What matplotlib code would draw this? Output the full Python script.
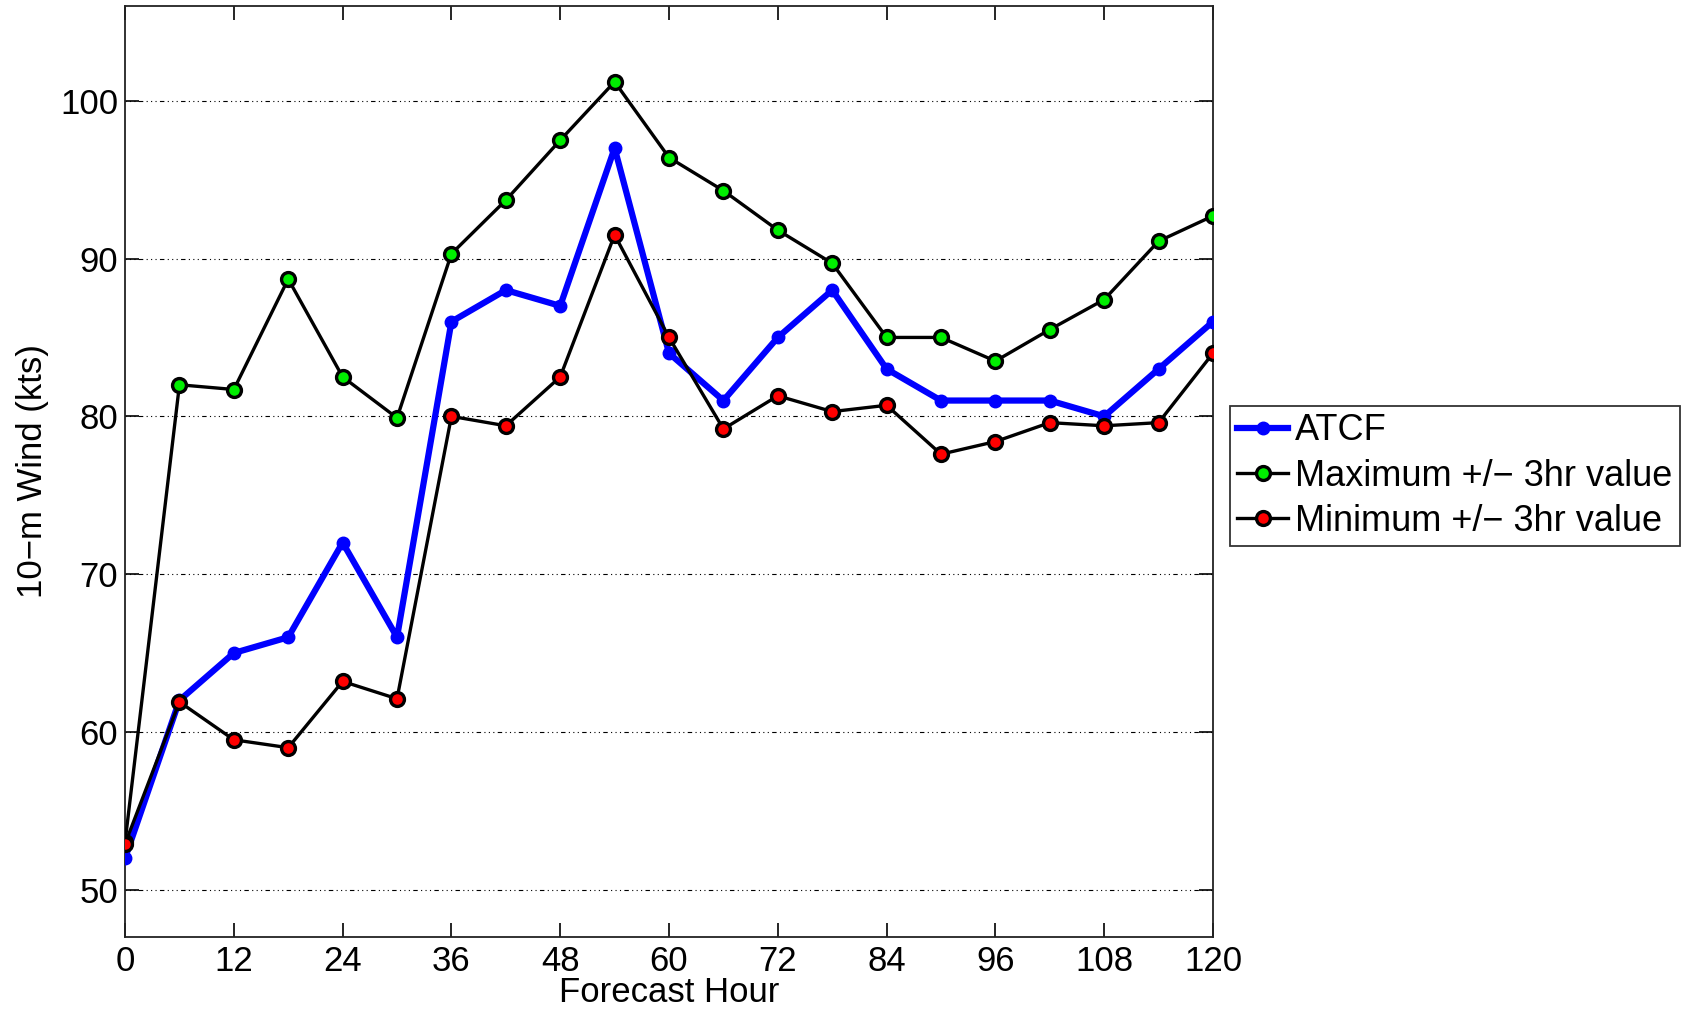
import numpy as np
import matplotlib
matplotlib.use("Agg")
import matplotlib.pyplot as plt

plt.rcParams['font.family'] = ['Liberation Sans', 'DejaVu Sans']

# forecast hours and wind values (kts)
hours = [0, 6, 12, 18, 24, 30, 36, 42, 48, 54, 60, 66, 72, 78, 84, 90, 96, 102, 108, 114, 120]
atcf = [52, 62, 65, 66, 72, 66, 86, 88, 87, 97, 84, 81, 85, 88, 83, 81, 81, 81, 80, 83, 86]
max_3hr = [53, 82.0, 81.7, 88.7, 82.5, 79.9, 90.3, 93.7, 97.5, 101.2, 96.4, 94.3, 91.8, 89.7,
           85.0, 85.0, 83.5, 85.5, 87.4, 91.1, 92.7]
min_3hr = [52.9, 61.9, 59.5, 59.0, 63.2, 62.1, 80.0, 79.4, 82.5, 91.5, 85.0, 79.2, 81.3, 80.3,
           80.7, 77.6, 78.4, 79.6, 79.4, 79.6, 84.0]

fig = plt.figure(figsize=(16.92, 10.13), dpi=100)
ax = fig.add_axes([0.0739, 0.075, 0.643, 0.919])

ax.plot(hours, atcf, color='#0000ff', lw=4.5, marker='o', ms=9, mfc='#0000ff', mec='#0000ff',
        label='ATCF', zorder=3)
ax.plot(hours, max_3hr, color='black', lw=2.4, marker='o', ms=10, mfc='#00ee00', mec='black', mew=2.4,
        label='Maximum +/\u2212 3hr value', zorder=4)
ax.plot(hours, min_3hr, color='black', lw=2.4, marker='o', ms=10, mfc='#ff0000', mec='black', mew=2.4,
        label='Minimum +/\u2212 3hr value', zorder=4)

ax.set_xlim(0, 120)
ax.set_ylim(47, 106)
ax.set_xticks(np.arange(0, 121, 12))
ax.set_yticks([50, 60, 70, 80, 90, 100])
ax.yaxis.grid(True, linestyle=(0, (1, 3, 1, 3, 1, 3, 4, 3)), color='black', lw=0.8)
ax.tick_params(direction='in', length=10, width=1.2, labelsize=25, top=True, right=True)
ax.tick_params(axis='x', pad=6)
ax.tick_params(axis='y', pad=5)
for s in ax.spines.values():
    s.set_linewidth(1.3)
    s.set_color('#222222')

ax.set_xlabel('Forecast Hour', fontsize=25, labelpad=-2)
ax.set_ylabel('10\u2212m Wind (kts)', fontsize=25, labelpad=8)

leg = fig.legend(loc='upper left', bbox_to_anchor=(0.727, 0.599), fontsize=26, frameon=True,
                 fancybox=False, edgecolor='black', borderpad=0.2, handlelength=1.4,
                 handletextpad=0.2, labelspacing=0.28, borderaxespad=0)
leg.get_frame().set_linewidth(1.3)

fig.savefig('out.png', dpi=100)
